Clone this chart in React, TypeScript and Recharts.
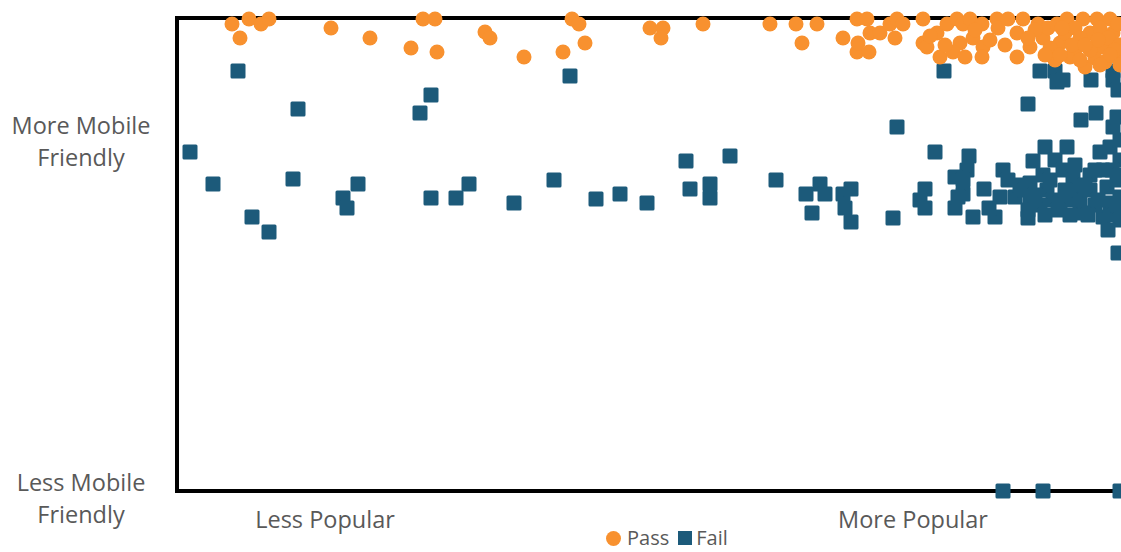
import React from 'react';
import { ScatterChart, Scatter, XAxis, YAxis, ReferenceLine } from 'recharts';

const ORANGE = '#F8912F';
const BLUE = '#1C5A7A';
const TEXT = '#595959';
const FONT = '"Open Sans", "Liberation Sans", sans-serif';

// x: popularity (0 = least popular), y: mobile friendliness (0 = least)
const xTicks = [148, 736];
const xTickLabels = ['Less Popular', 'More Popular'];
const yTicks = [0, 357];
const yTickLabels = [
  ['Less Mobile', 'Friendly'],
  ['More Mobile', 'Friendly'],
];

const passPoints: number[][] = [
  [55, 467], [72, 472], [84, 467], [92, 472], [63, 453], [154, 463], [193, 453], [234, 443],
  [246, 472], [258, 472], [260, 439], [308, 459], [313, 453], [347, 434], [386, 439], [395, 472],
  [402, 467], [408, 448], [473, 463], [486, 463], [484, 453], [526, 467], [593, 467], [619, 467],
  [640, 467], [625, 448], [666, 453], [680, 472], [690, 472], [680, 439], [692, 439], [681, 448],
  [693, 458], [703, 458], [713, 467], [720, 472], [726, 467], [718, 453], [746, 472], [746, 448],
  [750, 444], [760, 458], [763, 434], [770, 467], [780, 472], [786, 467], [793, 472], [783, 448],
  [776, 439], [788, 434], [796, 453], [805, 467], [806, 444], [805, 434], [820, 472], [821, 463],
  [831, 472], [840, 458], [846, 472], [840, 434], [853, 444], [861, 467], [866, 453], [871, 463],
  [880, 467], [890, 472], [883, 448], [893, 434], [906, 472], [908, 424], [900, 444], [913, 458],
  [920, 472], [926, 444], [933, 472], [936, 458], [940, 434], [873, 443], [878, 431], [888, 458],
  [898, 463], [903, 453], [918, 433], [923, 463], [928, 429], [931, 453], [941, 467], [943, 446],
  [913, 441], [895, 446], [885, 463], [938, 441], [921, 451], [908, 446], [933, 436], [868, 436],
  [858, 461], [851, 453], [903, 431], [923, 426], [943, 426], [883, 436], [753, 455], [768, 446],
  [813, 451], [798, 461], [828, 446],
];

const failPoints: number[][] = [
  [61, 420], [121, 382], [254, 396], [243, 378], [393, 415], [13, 339], [36, 307], [116, 312],
  [75, 274], [92, 259], [166, 293], [181, 307], [170, 283], [254, 293], [279, 293], [292, 307],
  [337, 288], [377, 311], [419, 292], [443, 297], [470, 288], [509, 330], [513, 302], [533, 307],
  [533, 293], [553, 335], [599, 311], [629, 297], [643, 307], [648, 297], [635, 278], [666, 297],
  [674, 302], [668, 283], [674, 269], [716, 273], [720, 364], [758, 339], [748, 302], [743, 291],
  [748, 283], [767, 420], [792, 335], [790, 321], [778, 314], [786, 311], [778, 283], [786, 297],
  [781, 294], [796, 274], [807, 302], [818, 274], [812, 283], [826, 321], [831, 311], [823, 294],
  [838, 294], [851, 273], [851, 281], [853, 288], [868, 344], [890, 344], [856, 330], [866, 316],
  [853, 308], [870, 301], [876, 291], [878, 331], [886, 321], [883, 288], [896, 314], [900, 301],
  [903, 288], [906, 278], [923, 339], [933, 344], [926, 321], [930, 304], [933, 288], [926, 274],
  [940, 311], [943, 294], [941, 238], [904, 371], [936, 364], [863, 420], [878, 420], [880, 409],
  [886, 411], [914, 411], [936, 420], [936, 411], [941, 401], [851, 387], [919, 378], [940, 374],
  [826, 0], [866, 0], [943, 0], [913, 301], [918, 286], [943, 331], [938, 276], [863, 286],
  [893, 291], [913, 316], [943, 271], [843, 306], [931, 261], [943, 351], [848, 301], [858, 296],
  [868, 276], [888, 301], [893, 276], [911, 276], [918, 321], [921, 291], [935, 321], [898, 326],
  [908, 306], [873, 311], [881, 281], [943, 316], [941, 286],
];

const passData = passPoints.map(([x, y]) => ({ x, y }));
const failData = failPoints.map(([x, y]) => ({ x, y }));

const PassDot = (p: any) => <circle cx={p.cx} cy={p.cy} r={7.5} fill={ORANGE} />;
const FailSquare = (p: any) => (
  <rect x={p.cx - 7.5} y={p.cy - 7.5} width={15} height={15} rx={1.5} fill={BLUE} />
);

const XTick = (p: any) => {
  const i = xTicks.indexOf(p.payload.value);
  return (
    <text x={p.x} y={528} textAnchor="middle" fill={TEXT} fontSize={23.5} fontFamily={FONT}>
      {xTickLabels[i]}
    </text>
  );
};

const YTick = (p: any) => {
  const i = yTicks.indexOf(p.payload.value);
  const lines = yTickLabels[i] || [];
  return (
    <text x={81} y={p.y} textAnchor="middle" fill={TEXT} fontSize={23.5} fontFamily={FONT}>
      <tspan x={81} dy={0}>{lines[0]}</tspan>
      <tspan x={81} dy={31.5}>{lines[1]}</tspan>
    </text>
  );
};

export default function App() {
  return (
    <div style={{ position: 'fixed', left: 0, top: 0, width: 1121, height: 552, overflow: 'hidden', background: '#fff' }}>
      <ScatterChart width={1147} height={552} margin={{ top: 18, right: 10, bottom: 0, left: 0 }}>
        <XAxis
          type="number"
          dataKey="x"
          domain={[0, 960]}
          ticks={xTicks}
          tick={<XTick />}
          tickLine={false}
          axisLine={{ stroke: '#000', strokeWidth: 4, strokeLinecap: 'square' }}
          height={61}
        />
        <YAxis
          type="number"
          dataKey="y"
          domain={[0, 473]}
          ticks={yTicks}
          tick={<YTick />}
          tickLine={false}
          axisLine={{ stroke: '#000', strokeWidth: 4, strokeLinecap: 'square' }}
          width={177}
        />
        <ReferenceLine y={473} stroke="#000" strokeWidth={4} />
        <Scatter data={failData} shape={<FailSquare />} isAnimationActive={false} />
        <Scatter data={passData} shape={<PassDot />} isAnimationActive={false} />
      </ScatterChart>
      <div
        style={{
          position: 'absolute',
          left: 606,
          top: 529,
          height: 18,
          display: 'flex',
          alignItems: 'center',
          fontFamily: FONT,
          fontSize: 20,
          lineHeight: '18px',
          color: TEXT,
          whiteSpace: 'nowrap',
        }}
      >
        <span style={{ display: 'inline-block', width: 15, height: 15, borderRadius: '50%', background: ORANGE, marginRight: 6 }} />
        <span style={{ marginRight: 9 }}>Pass</span>
        <span style={{ display: 'inline-block', width: 14, height: 14, background: BLUE, marginRight: 4 }} />
        <span>Fail</span>
      </div>
    </div>
  );
}
